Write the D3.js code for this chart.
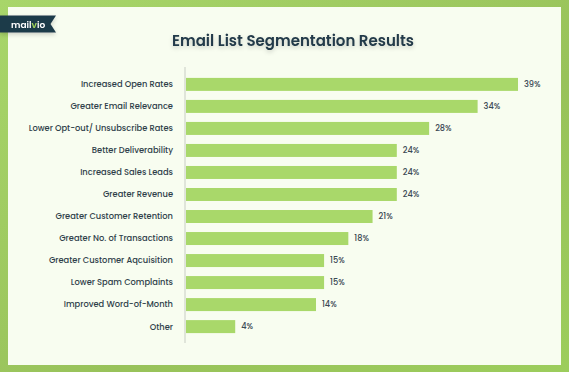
<!DOCTYPE html>
<html>
<head>
<meta charset="utf-8">
<script src="https://cdn.jsdelivr.net/npm/d3@7"></script>
<style>
  html, body { margin: 0; padding: 0; background: #f8fdf0; }
  svg { display: block; }
</style>
</head>
<body>
<svg id="chart"></svg>
<script>
// chart data
var categories = [
    "Increased Open Rates",
    "Greater Email Relevance",
    "Lower Opt-out/ Unsubscribe Rates",
    "Better Deliverability",
    "Increased Sales Leads",
    "Greater Revenue",
    "Greater Customer Retention",
    "Greater No. of Transactions",
    "Greater Customer Aqcuisition",
    "Lower Spam Complaints",
    "Improved Word-of-Month",
    "Other"
];
var values = [39, 34, 28, 24, 24, 24, 21, 18, 15, 15, 14, 4];
var valueLabels = ["39%", "34%", "28%", "24%", "24%", "24%", "21%", "18%", "15%", "15%", "14%", "4%"];
var title = "Email List Segmentation Results";

var width = 569, height = 372;
var font = "Poppins, Inter, 'Open Sans', sans-serif";

var svg = d3.select("#chart")
    .attr("width", width)
    .attr("height", height);

var defs = svg.append("defs");

var grad = defs.append("linearGradient")
    .attr("id", "frame")
    .attr("x1", "0").attr("y1", "0")
    .attr("x2", "1").attr("y2", "1");
grad.append("stop").attr("offset", "0%").attr("stop-color", "#a8d66a");
grad.append("stop").attr("offset", "60%").attr("stop-color", "#98c25a");
grad.append("stop").attr("offset", "100%").attr("stop-color", "#9ccd5c");

var shadow = defs.append("filter").attr("id", "shadow")
    .attr("x", "-20%").attr("y", "-50%").attr("width", "140%").attr("height", "200%");
shadow.append("feDropShadow")
    .attr("dx", 0).attr("dy", 2).attr("stdDeviation", 2)
    .attr("flood-color", "#000").attr("flood-opacity", 0.18);

// green frame + panel
svg.append("rect")
    .attr("width", width).attr("height", height)
    .attr("fill", "url(#frame)");
svg.append("rect")
    .attr("x", 8).attr("y", 7)
    .attr("width", 553).attr("height", 358)
    .attr("fill", "#f8fdf0");

// logo ribbon
var logo = svg.append("g").attr("filter", "url(#shadow)");
logo.append("path")
    .attr("d", "M0,15.5 L56,15.5 L50.5,24 L56,32.5 L0,32.5 Z")
    .attr("fill", "#1f3a4a");
var logoText = logo.append("text")
    .attr("x", 11).attr("y", 27.5)
    .attr("font-family", font)
    .attr("font-weight", 600)
    .attr("font-size", 9)
    .attr("fill", "#ffffff");
logoText.append("tspan").text("mail");
logoText.append("tspan").attr("fill", "#9fd35a").text("v");
logoText.append("tspan").text("io");

// title
svg.append("text")
    .attr("x", 293).attr("y", 46)
    .attr("text-anchor", "middle")
    .attr("font-family", font)
    .attr("font-weight", 600)
    .attr("font-size", 15)
    .attr("fill", "#243a4a")
    .attr("filter", "url(#shadow)")
    .text(title);

// scales (bars in the source start a little before zero)
var x0 = 186;
var x = d3.scaleLinear()
    .domain([-2.09, 40])
    .range([x0, x0 + 8.08 * 42.09]);

var y = d3.scaleBand()
    .domain(categories)
    .range([73.5, 337.5])
    .paddingInner(0.41)
    .paddingOuter(0.2);

var g = svg.append("g");

// bars
g.selectAll(".bar")
    .data(values)
    .enter().append("rect")
    .attr("class", "bar")
    .attr("x", x0)
    .attr("y", function (d, i) { return y(categories[i]); })
    .attr("width", function (d) { return x(d) - x0; })
    .attr("height", y.bandwidth())
    .attr("fill", "#a9d86a");

// axis line
g.append("line")
    .attr("x1", x0 - 1).attr("x2", x0 - 1)
    .attr("y1", 67).attr("y2", 343)
    .attr("stroke", "#e0e5da")
    .attr("stroke-width", 2);

// category labels
g.selectAll(".cat")
    .data(categories)
    .enter().append("text")
    .attr("class", "cat")
    .attr("x", 173)
    .attr("y", function (d) { return y(d) + y.bandwidth() / 2; })
    .attr("dy", "0.35em")
    .attr("text-anchor", "end")
    .attr("font-family", font)
    .attr("font-weight", 500)
    .attr("font-size", 8.3)
    .attr("fill", "#2f3f4a")
    .text(function (d) { return d; });

// value labels
g.selectAll(".val")
    .data(values)
    .enter().append("text")
    .attr("class", "val")
    .attr("x", function (d) { return x(d) + 6; })
    .attr("y", function (d, i) { return y(categories[i]) + y.bandwidth() / 2; })
    .attr("dy", "0.35em")
    .attr("font-family", font)
    .attr("font-weight", 500)
    .attr("font-size", 8.2)
    .attr("fill", "#3c4a55")
    .text(function (d, i) { return valueLabels[i]; });
</script>
</body>
</html>
